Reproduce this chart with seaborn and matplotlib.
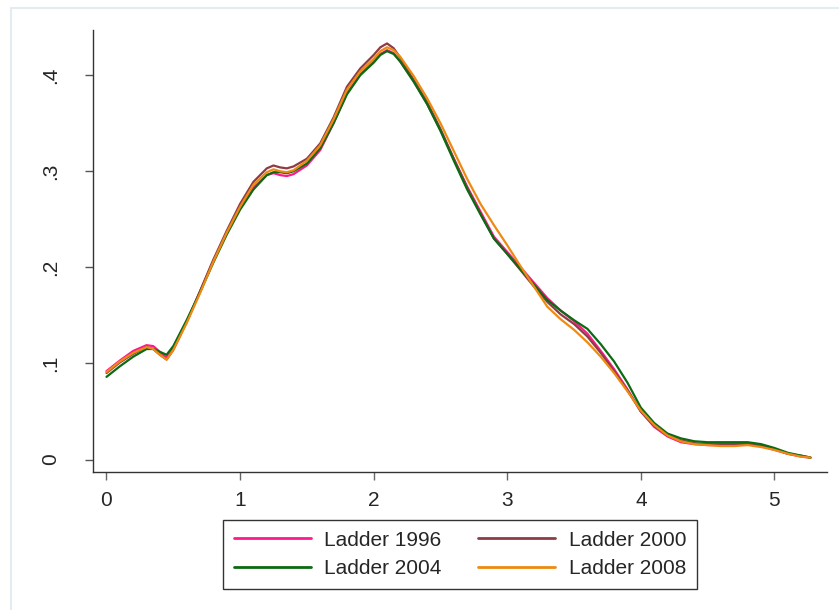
import seaborn as sns
import matplotlib.pyplot as plt
import matplotlib.patches as mpatches
import pandas as pd

# Kernel density estimates of ladder scores
x_grid = [0.00, 0.10, 0.20, 0.30, 0.35, 0.40, 0.45, 0.50, 0.60, 0.70,
          0.80, 0.90, 1.00, 1.10, 1.20, 1.25, 1.30, 1.35, 1.40, 1.50,
          1.60, 1.70, 1.80, 1.90, 2.00, 2.05, 2.10, 2.15, 2.20, 2.30,
          2.40, 2.50, 2.60, 2.70, 2.80, 2.90, 3.00, 3.10, 3.20, 3.30,
          3.40, 3.50, 3.60, 3.70, 3.80, 3.90, 4.00, 4.10, 4.20, 4.30,
          4.40, 4.50, 4.60, 4.70, 4.80, 4.90, 5.00, 5.10, 5.20, 5.27]

ladder_1996 = [0.092, 0.103, 0.113, 0.119, 0.118, 0.112, 0.106, 0.116, 0.143, 0.175,
               0.207, 0.236, 0.262, 0.283, 0.296, 0.298, 0.296, 0.295, 0.297, 0.306,
               0.322, 0.350, 0.381, 0.401, 0.414, 0.422, 0.426, 0.423, 0.414, 0.394,
               0.370, 0.343, 0.313, 0.284, 0.258, 0.232, 0.216, 0.200, 0.184, 0.168,
               0.155, 0.144, 0.131, 0.113, 0.094, 0.073, 0.050, 0.034, 0.024, 0.018,
               0.016, 0.015, 0.015, 0.015, 0.016, 0.014, 0.010, 0.006, 0.003, 0.002]

ladder_2000 = [0.090, 0.101, 0.110, 0.117, 0.115, 0.109, 0.104, 0.114, 0.143, 0.175,
               0.208, 0.238, 0.266, 0.289, 0.303, 0.306, 0.304, 0.303, 0.305, 0.313,
               0.329, 0.356, 0.388, 0.407, 0.421, 0.429, 0.433, 0.428, 0.418, 0.395,
               0.372, 0.344, 0.313, 0.283, 0.256, 0.230, 0.214, 0.197, 0.180, 0.164,
               0.151, 0.141, 0.128, 0.111, 0.092, 0.072, 0.050, 0.035, 0.025, 0.020,
               0.017, 0.016, 0.016, 0.016, 0.016, 0.015, 0.011, 0.006, 0.004, 0.002]

ladder_2004 = [0.086, 0.097, 0.107, 0.115, 0.115, 0.112, 0.109, 0.118, 0.145, 0.174,
               0.205, 0.234, 0.260, 0.281, 0.296, 0.299, 0.299, 0.298, 0.300, 0.308,
               0.324, 0.350, 0.380, 0.400, 0.413, 0.421, 0.425, 0.422, 0.414, 0.393,
               0.370, 0.342, 0.311, 0.281, 0.255, 0.230, 0.214, 0.198, 0.182, 0.166,
               0.155, 0.145, 0.136, 0.120, 0.102, 0.080, 0.054, 0.038, 0.027, 0.022,
               0.019, 0.018, 0.018, 0.018, 0.018, 0.016, 0.012, 0.007, 0.004, 0.002]

ladder_2008 = [0.091, 0.102, 0.111, 0.117, 0.115, 0.109, 0.104, 0.114, 0.142, 0.173,
               0.206, 0.236, 0.263, 0.286, 0.299, 0.302, 0.300, 0.299, 0.301, 0.311,
               0.327, 0.354, 0.385, 0.404, 0.417, 0.425, 0.429, 0.426, 0.419, 0.399,
               0.376, 0.350, 0.321, 0.292, 0.266, 0.244, 0.223, 0.201, 0.180, 0.159,
               0.146, 0.135, 0.122, 0.107, 0.090, 0.071, 0.051, 0.036, 0.025, 0.019,
               0.016, 0.015, 0.014, 0.014, 0.015, 0.013, 0.010, 0.006, 0.003, 0.002]

series_names = ["Ladder 1996", "Ladder 2000", "Ladder 2004", "Ladder 2008"]
series_colors = ["#ff1a8c", "#8f3b46", "#0b6b12", "#ee8a12"]

frames = []
for name, vals in zip(series_names, [ladder_1996, ladder_2000, ladder_2004, ladder_2008]):
    frames.append(pd.DataFrame({"x": x_grid, "density": vals, "series": name}))
data = pd.concat(frames, ignore_index=True)

sns.set_style("white")
plt.rcParams["font.family"] = ["Liberation Sans", "DejaVu Sans"]

fig = plt.figure(figsize=(8.39, 6.10), dpi=100)
fig.patch.set_facecolor("white")
ax = fig.add_axes([93 / 839, 138 / 610, 733.5 / 839, 442 / 610])

sns.lineplot(data=data, x="x", y="density", hue="series", hue_order=series_names,
             palette=series_colors, linewidth=1.6, errorbar=None, sort=True, ax=ax)
for line in ax.get_lines():
    line.set_solid_joinstyle("round")

ax.set_xlim(-0.101, 5.39)
ax.set_ylim(-0.013, 0.447)
ax.set_xlabel("")
ax.set_ylabel("")
ax.set_xticks([0, 1, 2, 3, 4, 5])
ax.set_xticklabels(["0", "1", "2", "3", "4", "5"])
ax.set_yticks([0, 0.1, 0.2, 0.3, 0.4])
ax.set_yticklabels(["0", ".1", ".2", ".3", ".4"], rotation=90, va="center")

for side in ["top", "right"]:
    ax.spines[side].set_visible(False)
for side in ["left", "bottom"]:
    ax.spines[side].set_color("#333333")
    ax.spines[side].set_linewidth(1.0)

ax.tick_params(axis="x", bottom=True, direction="out", length=6, width=1,
               color="#666666", labelsize=15, pad=8)
ax.tick_params(axis="y", left=True, direction="out", length=6, width=1,
               color="#555555", labelsize=15, pad=18)

# legend below the plot, two columns
handles, labels = ax.get_legend_handles_labels()
ax.get_legend().remove()
order = [0, 2, 1, 3]
leg = fig.legend([handles[i] for i in order], [labels[i] for i in order],
                 loc="center", bbox_to_anchor=(460 / 839, 1 - 554.5 / 610),
                 ncol=2, fontsize=15, frameon=True, fancybox=False,
                 handlelength=3.7, handletextpad=0.65, columnspacing=1.75,
                 labelspacing=0.48, borderpad=0.5)
leg.get_frame().set_edgecolor("black")
leg.get_frame().set_linewidth(1.0)
for line in leg.get_lines():
    line.set_linewidth(2.0)

# faint outer frame of the graph region
fig.patches.append(mpatches.Rectangle((10.5 / 839, -0.1), 1.2, 1 - 8 / 610 + 0.1,
                                      transform=fig.transFigure, fill=False,
                                      edgecolor="#e4ecf1", linewidth=1.5))

plt.savefig("out.png", dpi=100)
plt.close()
